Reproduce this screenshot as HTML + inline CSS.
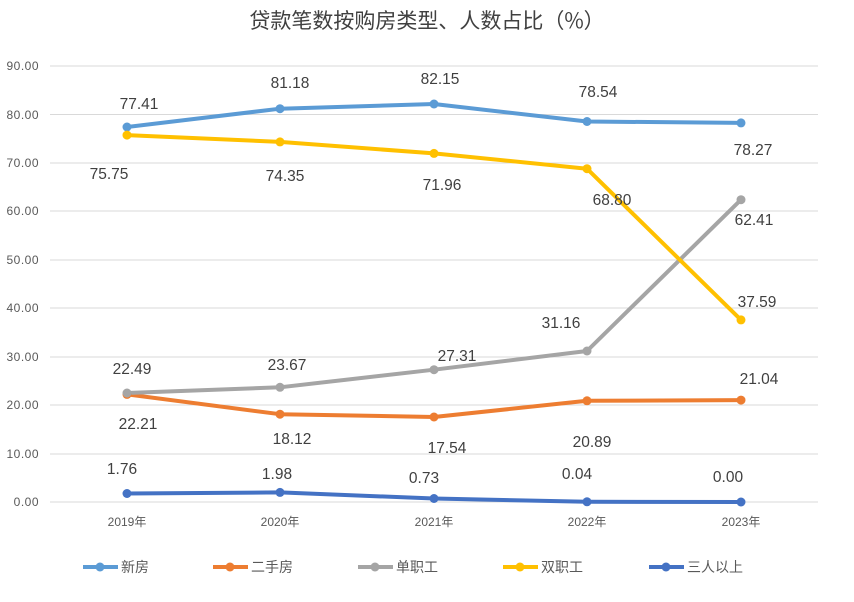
<!DOCTYPE html>
<html><head><meta charset="utf-8"><style>
html,body{margin:0;padding:0;background:#fff;}
svg{display:block;font-family:"Liberation Sans","Noto Sans CJK SC",sans-serif;}
</style></head><body>
<svg width="854" height="602" viewBox="0 0 854 602" xmlns="http://www.w3.org/2000/svg">
<text x="427" y="28" text-anchor="middle" font-size="21" fill="#404040" font-family="'Noto Sans CJK SC',sans-serif">贷款笔数按购房类型、人数占比（%）</text>
<g stroke="#d9d9d9" stroke-width="1">
<line x1="50" x2="818" y1="66" y2="66"/><line x1="50" x2="818" y1="114.5" y2="114.5"/><line x1="50" x2="818" y1="163" y2="163"/><line x1="50" x2="818" y1="211" y2="211"/><line x1="50" x2="818" y1="260" y2="260"/><line x1="50" x2="818" y1="308" y2="308"/><line x1="50" x2="818" y1="357" y2="357"/><line x1="50" x2="818" y1="405" y2="405"/><line x1="50" x2="818" y1="454" y2="454"/><line x1="50" x2="818" y1="502" y2="502"/>
</g>
<g font-size="12" fill="#595959" text-anchor="end" letter-spacing="0.5">
<text x="39" y="70">90.00</text><text x="39" y="119">80.00</text><text x="39" y="167">70.00</text><text x="39" y="215">60.00</text><text x="39" y="264">50.00</text><text x="39" y="312">40.00</text><text x="39" y="361">30.00</text><text x="39" y="409">20.00</text><text x="39" y="458">10.00</text><text x="39" y="506">0.00</text>
</g>
<g font-size="12" fill="#595959" text-anchor="middle">
<text x="127" y="526">2019年</text><text x="280" y="526">2020年</text><text x="434" y="526">2021年</text><text x="587" y="526">2022年</text><text x="741" y="526">2023年</text>
</g>
<g fill="none" stroke-width="4" stroke-linejoin="round">
<polyline stroke="#5B9BD5" points="127,127 280,108.7 434,104 587,121.5 741,122.9"/>
<polyline stroke="#ED7D31" points="127,394.4 280,414.2 434,417 587,400.8 741,400.1"/>
<polyline stroke="#A5A5A5" points="127,393 280,387.3 434,369.7 587,351 741,199.7"/>
<polyline stroke="#FFC000" points="127,135.1 280,141.9 434,153.4 587,168.7 741,319.9"/>
<polyline stroke="#4472C4" points="127,493.5 280,492.4 434,498.5 587,501.8 741,502"/>
</g>
<g fill="#5B9BD5"><circle cx="127" cy="127" r="4.5"/><circle cx="280" cy="108.7" r="4.5"/><circle cx="434" cy="104" r="4.5"/><circle cx="587" cy="121.5" r="4.5"/><circle cx="741" cy="122.9" r="4.5"/></g>
<g fill="#ED7D31"><circle cx="127" cy="394.4" r="4.5"/><circle cx="280" cy="414.2" r="4.5"/><circle cx="434" cy="417" r="4.5"/><circle cx="587" cy="400.8" r="4.5"/><circle cx="741" cy="400.1" r="4.5"/></g>
<g fill="#A5A5A5"><circle cx="127" cy="393" r="4.5"/><circle cx="280" cy="387.3" r="4.5"/><circle cx="434" cy="369.7" r="4.5"/><circle cx="587" cy="351" r="4.5"/><circle cx="741" cy="199.7" r="4.5"/></g>
<g fill="#FFC000"><circle cx="127" cy="135.1" r="4.5"/><circle cx="280" cy="141.9" r="4.5"/><circle cx="434" cy="153.4" r="4.5"/><circle cx="587" cy="168.7" r="4.5"/><circle cx="741" cy="319.9" r="4.5"/></g>
<g fill="#4472C4"><circle cx="127" cy="493.5" r="4.5"/><circle cx="280" cy="492.4" r="4.5"/><circle cx="434" cy="498.5" r="4.5"/><circle cx="587" cy="501.8" r="4.5"/><circle cx="741" cy="502" r="4.5"/></g>
<g font-size="15.5" fill="#404040" text-anchor="middle">
<text x="139" y="109">77.41</text><text x="290" y="88">81.18</text><text x="440" y="84">82.15</text><text x="598" y="97">78.54</text><text x="753" y="155">78.27</text>
<text x="138" y="429">22.21</text><text x="292" y="444">18.12</text><text x="447" y="453">17.54</text><text x="592" y="447">20.89</text><text x="759" y="384">21.04</text>
<text x="132" y="374">22.49</text><text x="287" y="370">23.67</text><text x="457" y="361">27.31</text><text x="561" y="328">31.16</text><text x="754" y="225">62.41</text>
<text x="109" y="179">75.75</text><text x="285" y="181">74.35</text><text x="442" y="190">71.96</text><text x="612" y="205">68.80</text><text x="757" y="307">37.59</text>
<text x="122" y="474">1.76</text><text x="277" y="479">1.98</text><text x="424" y="483">0.73</text><text x="577" y="479">0.04</text><text x="728" y="482">0.00</text>
</g>
<g stroke-width="4">
<line x1="83" x2="118" y1="567" y2="567" stroke="#5B9BD5"/><circle cx="100" cy="567" r="4.5" fill="#5B9BD5"/>
<line x1="213" x2="248" y1="567" y2="567" stroke="#ED7D31"/><circle cx="230" cy="567" r="4.5" fill="#ED7D31"/>
<line x1="358" x2="393" y1="567" y2="567" stroke="#A5A5A5"/><circle cx="375" cy="567" r="4.5" fill="#A5A5A5"/>
<line x1="503" x2="538" y1="567" y2="567" stroke="#FFC000"/><circle cx="520" cy="567" r="4.5" fill="#FFC000"/>
<line x1="649" x2="684" y1="567" y2="567" stroke="#4472C4"/><circle cx="666" cy="567" r="4.5" fill="#4472C4"/>
</g>
<g font-size="14" fill="#595959">
<text x="121" y="572">新房</text><text x="251" y="572">二手房</text><text x="396" y="572">单职工</text><text x="541" y="572">双职工</text><text x="687" y="572">三人以上</text>
</g>
</svg>
</body></html>
